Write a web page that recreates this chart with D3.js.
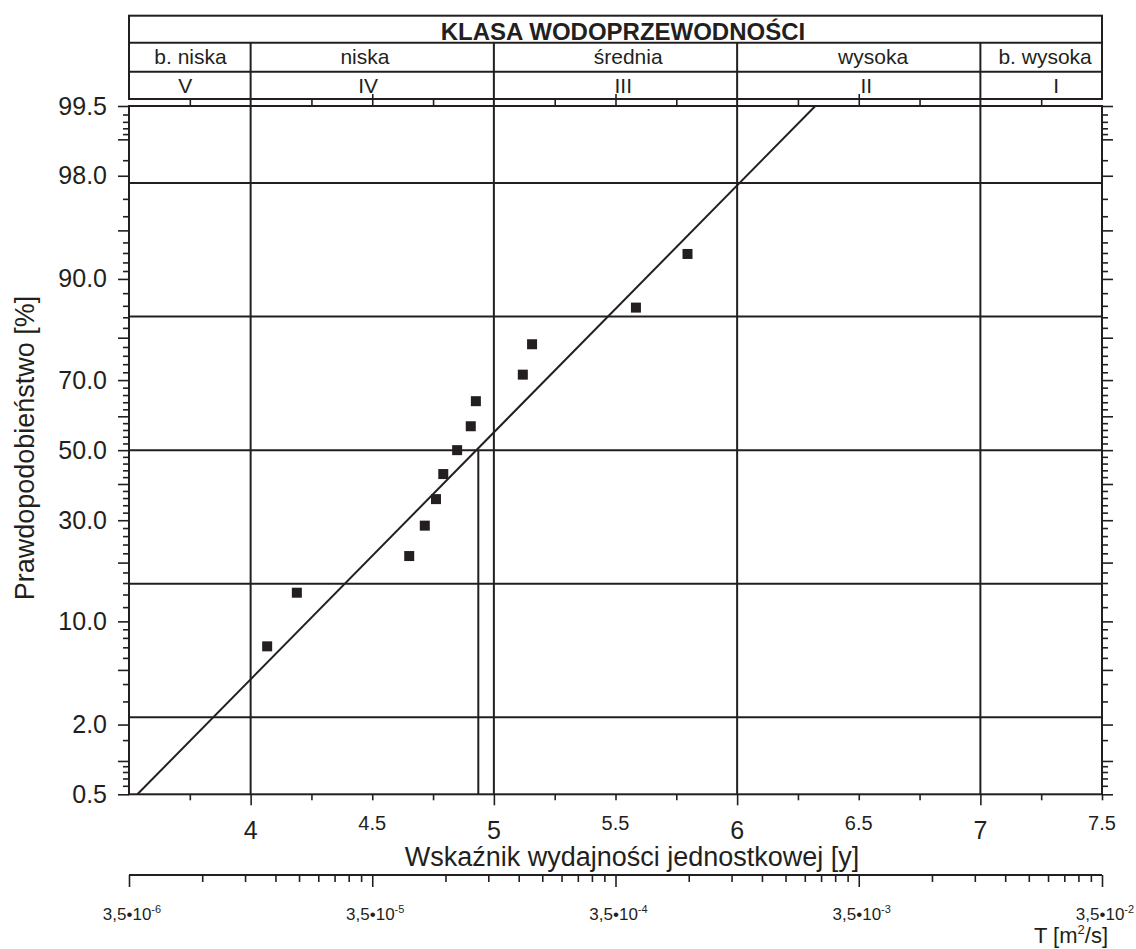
<!DOCTYPE html>
<html>
<head>
<meta charset="utf-8">
<script src="https://cdn.jsdelivr.net/npm/d3@7"></script>
<style>
body { margin: 0; background: #fff; }
text { font-family: "Liberation Sans", Arial, Helvetica, sans-serif; fill: #231f20; }
</style>
</head>
<body>
<svg id="chart" width="1136" height="949"></svg>
<script>
// measured points: index y and plotting position (%)
var yIndex = [4.068, 4.190, 4.652, 4.716, 4.762, 4.792, 4.849, 4.905, 4.926, 5.119, 5.157, 5.584, 5.796]
var probPct = [7.1, 14.3, 21.4, 28.6, 35.7, 42.9, 50.0, 57.1, 64.3, 71.4, 78.6, 85.7, 92.9]

// fitted normal line
var fitMean = 4.928
var fitSd = 0.541
var medianLineY = 4.936

// probability axis
var probMajor = [0.5, 1, 2, 5, 10, 20, 30, 40, 50, 60, 70, 80, 90, 95, 98, 99, 99.5]
var probMinor = [0.6, 0.7, 0.8, 0.9, 1.5, 3, 4, 6, 7, 8, 9, 12, 14, 16, 18, 22, 24, 26, 28,
    32, 34, 36, 38, 42, 44, 46, 48, 52, 54, 56, 58, 62, 64, 66, 68, 72, 74, 76, 78,
    82, 84, 86, 88, 91, 92, 93, 94, 96, 97, 98.5, 99.1, 99.2, 99.3, 99.4]
var probLabels = [0.5, 2, 10, 30, 50, 70, 90, 98, 99.5]
var sigmaLines = [-2, -1, 0, 1, 2]

// index axis
var xDomain = [3.5, 7.5]
var xGrid = [4, 5, 6, 7]
var xQuarter = [3.75, 4.25, 4.5, 4.75, 5.25, 5.5, 5.75, 6.25, 6.5, 6.75, 7.25, 7.5]
var xTopQuarter = [3.75, 4.25, 4.75, 5.25, 5.75, 6.25, 6.75, 7.25]
var xTopHalf = [4.5, 5.5, 6.5]
var xIntLabels = [4, 5, 6, 7]
var xHalfLabels = [4.5, 5.5, 6.5, 7.5]

// transmissivity axis
var tDomain = [3.5e-6, 3.5e-2]
var tMajor = [3.5e-6, 3.5e-5, 3.5e-4, 3.5e-3, 3.5e-2]
var tExp = ['-6', '-5', '-4', '-3', '-2']
var tMult = [2, 3, 4, 5, 6, 7, 8, 9]

// header classes
var classNames = ['b. niska', 'niska', 'średnia', 'wysoka', 'b. wysoka']
var classNameAt = [3.753, 4.47, 5.552, 6.559, 7.266]
var classRoman = ['V', 'IV', 'III', 'II', 'I']
var classRomanAt = [3.731, 4.483, 5.532, 6.531, 7.312]

var ink = '#231f20'

function probit(p){
    var a = [-3.969683028665376e+01, 2.209460984245205e+02, -2.759285104469687e+02, 1.383577518672690e+02, -3.066479806614716e+01, 2.506628277459239e+00]
    var b = [-5.447609879822406e+01, 1.615858368580409e+02, -1.556989798598866e+02, 6.680131188771972e+01, -1.328068155288572e+01]
    var c = [-7.784894002430293e-03, -3.223964580411365e-01, -2.400758277161838e+00, -2.549671348283685e+00, 4.374664141464968e+00, 2.938163982698783e+00]
    var d = [7.784695709041462e-03, 3.224671290700398e-01, 2.445134137142996e+00, 3.754408661907416e+00]
    var q, r
    if(p < 0.02425){
        q = Math.sqrt(-2*Math.log(p))
        return (((((c[0]*q+c[1])*q+c[2])*q+c[3])*q+c[4])*q+c[5])/((((d[0]*q+d[1])*q+d[2])*q+d[3])*q+1)
    }
    if(p <= 1 - 0.02425){
        q = p - 0.5; r = q*q
        return (((((a[0]*r+a[1])*r+a[2])*r+a[3])*r+a[4])*r+a[5])*q/(((((b[0]*r+b[1])*r+b[2])*r+b[3])*r+b[4])*r+1)
    }
    q = Math.sqrt(-2*Math.log(1-p))
    return -(((((c[0]*q+c[1])*q+c[2])*q+c[3])*q+c[4])*q+c[5])/((((d[0]*q+d[1])*q+d[2])*q+d[3])*q+1)
}
function zOf(pct){ return probit(pct/100) }

var pLeft = 129, pRight = 1102, pTop = 106, pBottom = 794.3
var headTop = 15.7, row1 = 42.7, row2 = 71.7, row3 = 99

var svg = d3.select('#chart')

var x = d3.scaleLinear().domain(xDomain).range([pLeft, pRight])
var y = d3.scaleLinear().domain([zOf(0.5), zOf(99.5)]).range([pBottom, pTop])
var t = d3.scaleLog().domain(tDomain).range([pLeft, pRight])

function cleanAxis(g){
    g.attr('font-family', null)
    g.select('.domain').remove()
    g.selectAll('.tick line').attr('stroke', ink).attr('stroke-width', 1.6)
    g.selectAll('.tick text').attr('fill', ink)
}

// ---- header table
var head = svg.append('g').attr('class', 'header')
head.append('rect')
    .attr('x', pLeft).attr('y', headTop)
    .attr('width', pRight - pLeft).attr('height', row3 - headTop)
    .attr('fill', 'none').attr('stroke', ink).attr('stroke-width', 2)
head.selectAll('line.row').data([row1, row2, row3]).enter()
    .append('line').attr('class', 'row')
    .attr('x1', pLeft).attr('x2', pRight)
    .attr('y1', function(d){ return d }).attr('y2', function(d){ return d })
    .attr('stroke', ink).attr('stroke-width', 2)

head.append('text')
    .attr('x', 623).attr('y', 39.5)
    .attr('text-anchor', 'middle')
    .attr('font-size', '24px').attr('font-weight', 'bold')
    .text('KLASA WODOPRZEWODNOŚCI')

head.selectAll('text.cls').data(classNames).enter()
    .append('text').attr('class', 'cls')
    .attr('x', function(d,i){ return x(classNameAt[i]) })
    .attr('y', 64)
    .attr('text-anchor', 'middle')
    .attr('font-size', '21px')
    .text(function(d){ return d })

head.selectAll('text.roman').data(classRoman).enter()
    .append('text').attr('class', 'roman')
    .attr('x', function(d,i){ return x(classRomanAt[i]) })
    .attr('y', 93)
    .attr('text-anchor', 'middle')
    .attr('font-size', '21px')
    .text(function(d){ return d })

// ---- vertical class boundaries / grid
svg.selectAll('line.vgrid').data(xGrid).enter()
    .append('line').attr('class', 'vgrid')
    .attr('x1', function(d){ return x(d) }).attr('x2', function(d){ return x(d) })
    .attr('y1', row1).attr('y2', pBottom)
    .attr('stroke', ink).attr('stroke-width', 2)

// ---- horizontal sigma lines
svg.selectAll('line.hgrid').data(sigmaLines).enter()
    .append('line').attr('class', 'hgrid')
    .attr('x1', pLeft).attr('x2', pRight)
    .attr('y1', function(d){ return y(d) }).attr('y2', function(d){ return y(d) })
    .attr('stroke', ink).attr('stroke-width', 2)

// ---- median drop line
svg.append('line')
    .attr('x1', x(medianLineY)).attr('x2', x(medianLineY))
    .attr('y1', y(0)).attr('y2', pBottom)
    .attr('stroke', ink).attr('stroke-width', 2)

// ---- plot frame
svg.append('rect')
    .attr('x', pLeft).attr('y', pTop)
    .attr('width', pRight - pLeft).attr('height', pBottom - pTop)
    .attr('fill', 'none').attr('stroke', ink).attr('stroke-width', 2)

// ---- left probability axis
svg.append('g').attr('transform', 'translate(' + pLeft + ',0)')
    .call(d3.axisLeft(y).tickValues(probMajor.map(zOf)).tickSize(11).tickPadding(11)
        .tickFormat(function(d,i){
            return probLabels.indexOf(probMajor[i]) >= 0 ? d3.format('.1f')(probMajor[i]) : ''
        }))
    .call(cleanAxis)
    .attr('font-size', '25px')
svg.append('g').attr('transform', 'translate(' + pLeft + ',0)')
    .call(d3.axisLeft(y).tickValues(probMinor.map(zOf)).tickSize(6).tickFormat(''))
    .call(cleanAxis)

// ---- right probability axis
svg.append('g').attr('transform', 'translate(' + pRight + ',0)')
    .call(d3.axisRight(y).tickValues(probMajor.map(zOf)).tickSize(11).tickFormat(''))
    .call(cleanAxis)
svg.append('g').attr('transform', 'translate(' + pRight + ',0)')
    .call(d3.axisRight(y).tickValues(probMinor.map(zOf)).tickSize(6).tickFormat(''))
    .call(cleanAxis)

// ---- top strip ticks
svg.append('g').attr('transform', 'translate(0,' + pTop + ')')
    .call(d3.axisTop(x).tickValues(xTopQuarter).tickSize(pTop - row3).tickFormat(''))
    .call(cleanAxis)
svg.append('g').attr('transform', 'translate(0,' + pTop + ')')
    .call(d3.axisTop(x).tickValues(xTopHalf).tickSize(12).tickFormat(''))
    .call(cleanAxis)

// ---- bottom index axis
svg.append('g').attr('transform', 'translate(0,' + pBottom + ')')
    .call(d3.axisBottom(x).tickValues(xGrid).tickSize(11).tickFormat(''))
    .call(cleanAxis)
svg.append('g').attr('transform', 'translate(0,' + pBottom + ')')
    .call(d3.axisBottom(x).tickValues(xQuarter).tickSize(6).tickFormat(''))
    .call(cleanAxis)

svg.selectAll('text.xint').data(xIntLabels).enter()
    .append('text').attr('class', 'xint')
    .attr('x', function(d){ return x(d) }).attr('y', 839)
    .attr('text-anchor', 'middle').attr('font-size', '25px')
    .text(function(d){ return d })
svg.selectAll('text.xhalf').data(xHalfLabels).enter()
    .append('text').attr('class', 'xhalf')
    .attr('x', function(d){ return x(d) }).attr('y', 830)
    .attr('text-anchor', 'middle').attr('font-size', '20px')
    .text(function(d){ return d })

svg.append('text')
    .attr('x', 632).attr('y', 866)
    .attr('text-anchor', 'middle').attr('font-size', '27px')
    .text('Wskaźnik wydajności jednostkowej [y]')

svg.append('text')
    .attr('transform', 'translate(34,448) rotate(-90)')
    .attr('text-anchor', 'middle').attr('font-size', '27px')
    .text('Prawdopodobieństwo [%]')

// ---- transmissivity axis
var tMinor = []
tMajor.slice(0, -1).forEach(function(m){
    tMult.forEach(function(k){ tMinor.push(m*k) })
})
var tAxisY = 875
svg.append('line')
    .attr('x1', pLeft).attr('x2', pRight)
    .attr('y1', tAxisY).attr('y2', tAxisY)
    .attr('stroke', ink).attr('stroke-width', 2)
svg.append('g').attr('transform', 'translate(0,' + tAxisY + ')')
    .call(d3.axisBottom(t).tickValues(tMajor).tickSize(12).tickFormat(''))
    .call(cleanAxis)
svg.append('g').attr('transform', 'translate(0,' + tAxisY + ')')
    .call(d3.axisBottom(t).tickValues(tMinor).tickSize(7).tickFormat(''))
    .call(cleanAxis)

var tl = svg.selectAll('text.tlab').data(tMajor).enter()
    .append('text').attr('class', 'tlab')
    .attr('x', function(d){ return t(d) + 3 }).attr('y', 920)
    .attr('text-anchor', 'middle').attr('font-size', '17px')
tl.append('tspan').text('3,5•10')
tl.append('tspan').attr('dy', -7).attr('font-size', '11px')
    .text(function(d,i){ return tExp[i] })

var tt = svg.append('text')
    .attr('x', 1108).attr('y', 943)
    .attr('text-anchor', 'end').attr('font-size', '22px')
tt.append('tspan').text('T [m')
tt.append('tspan').attr('dy', -9).attr('font-size', '13px').text('2')
tt.append('tspan').attr('dy', 9).text('/s]')

// ---- fitted line
var zEnds = [zOf(0.5), zOf(99.5)]
svg.append('path')
    .datum(zEnds)
    .attr('fill', 'none').attr('stroke', ink).attr('stroke-width', 2)
    .attr('d', d3.line()
        .x(function(d){ return x(fitMean + fitSd*d) })
        .y(function(d){ return y(d) }))

// ---- points
svg.selectAll('rect.pt').data(yIndex).enter()
    .append('rect').attr('class', 'pt')
    .attr('x', function(d){ return x(d) - 5 })
    .attr('y', function(d,i){ return y(zOf(probPct[i])) - 5 })
    .attr('width', 10).attr('height', 10)
    .attr('fill', ink)
</script>
</body>
</html>
